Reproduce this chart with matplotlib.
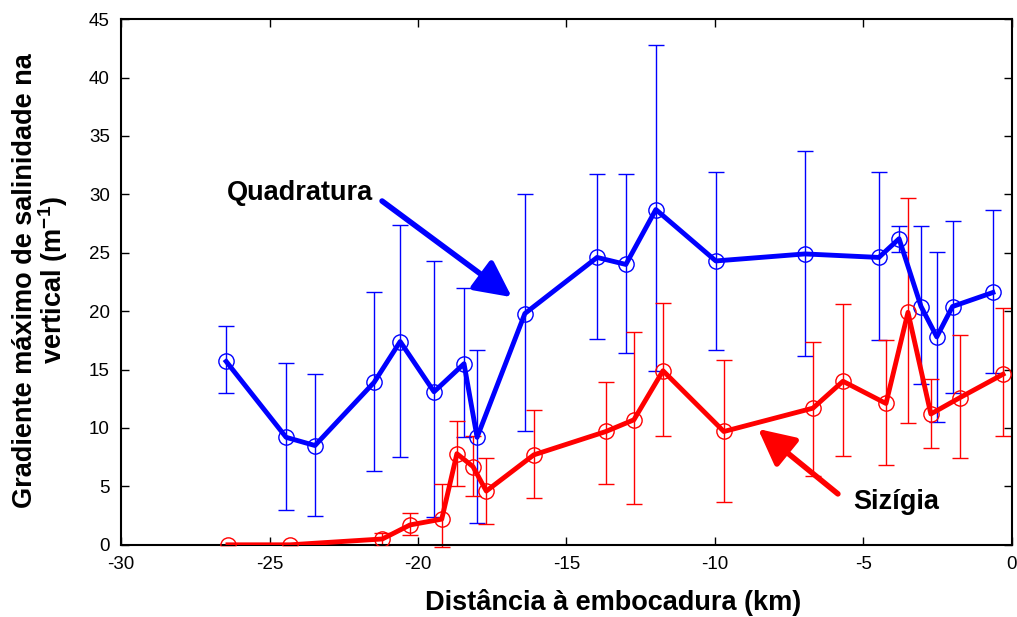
import matplotlib
matplotlib.use("Agg")
import matplotlib.pyplot as plt

plt.rcParams['font.family'] = ['Liberation Sans', 'DejaVu Sans']
plt.rcParams['axes.unicode_minus'] = False
plt.rcParams['mathtext.fontset'] = 'custom'
plt.rcParams['mathtext.rm'] = 'Liberation Sans'
plt.rcParams['mathtext.bf'] = 'Liberation Sans:bold'

# Quadratura (blue)
quad_x = [-26.46, -24.44, -23.47, -21.48, -20.6, -19.46, -18.45, -18.01, -16.4,
          -13.97, -13.0, -11.99, -9.97, -6.97, -4.48, -3.8, -3.06, -2.53, -2.0, -0.64]
quad_y = [15.7, 9.2, 8.5, 13.9, 17.4, 13.1, 15.5, 9.2, 19.8,
          24.6, 24.0, 28.7, 24.3, 24.9, 24.6, 26.2, 20.4, 17.8, 20.4, 21.6]
quad_top = [18.7, 15.6, 14.6, 21.6, 27.4, 24.3, 22.0, 16.7, 30.0,
            31.7, 31.7, 42.8, 31.9, 33.7, 31.9, 27.3, 27.3, 25.1, 27.7, 28.7]
quad_bot = [13.0, 3.0, 2.5, 6.3, 7.5, 2.4, 9.2, 1.9, 9.75,
            17.6, 16.4, 14.9, 16.7, 16.2, 17.5, 25.1, 13.8, 10.5, 13.0, 14.7]

# Sizigia (red)
siz_x = [-26.4, -24.3, -21.2, -20.27, -19.2, -18.69, -18.15, -17.7, -16.1,
         -13.67, -12.73, -11.75, -9.7, -6.7, -5.69, -4.24, -3.5, -2.73, -1.75, -0.3]
siz_y = [0.0, 0.0, 0.5, 1.7, 2.2, 7.8, 6.7, 4.6, 7.7,
         9.7, 10.7, 14.9, 9.7, 11.7, 14.0, 12.1, 19.9, 11.2, 12.6, 14.6]
siz_top = [0.0, 0.0, 1.0, 2.7, 5.2, 10.6, 9.3, 7.4, 11.5,
           13.9, 18.2, 20.7, 15.8, 17.4, 20.6, 17.5, 29.7, 14.2, 18.0, 20.3]
siz_bot = [0.0, 0.0, 0.0, 0.8, -0.2, 5.0, 4.2, 1.8, 4.0,
           5.2, 3.5, 9.3, 3.7, 5.9, 7.6, 6.8, 10.4, 8.3, 7.4, 9.3]

fig = plt.figure(figsize=(10.17, 6.17), dpi=100)
ax = fig.add_axes([0.119, 0.117, 0.876, 0.852])

def draw(x, y, top, bot, color):
    yerr = [[yi - b for yi, b in zip(y, bot)], [t - yi for yi, t in zip(y, top)]]
    ax.errorbar(x, y, yerr=yerr, fmt='none', ecolor=color, elinewidth=1.0,
                capsize=5.8, capthick=1.0, zorder=2, clip_on=False)
    ax.plot(x, y, '-', color=color, lw=3.5, zorder=3)
    ax.plot(x, y, 'o', mfc='none', mec=color, ms=11, mew=1.0, zorder=4)

draw(quad_x, quad_y, quad_top, quad_bot, 'blue')
draw(siz_x, siz_y, siz_top, siz_bot, 'red')

ax.set_xlim(-30, 0)
ax.set_ylim(0, 45)
ax.set_xticks(range(-30, 1, 5))
ax.set_yticks(range(0, 46, 5))
ax.tick_params(direction='in', length=6, width=1, top=True, right=True,
               labelsize=13.5, pad=8)
for s in ax.spines.values():
    s.set_linewidth(1.5)

ax.set_xlabel("Distância à embocadura (km)", fontsize=19.5, fontweight='bold')
ax.xaxis.set_label_coords(0.552, -0.085)
ax.set_ylabel("Gradiente máximo de salinidade na\nvertical (m$^{\\mathbf{-1}}$)",
              fontsize=19.5, fontweight='bold', linespacing=0.95)
ax.yaxis.set_label_coords(-0.057, 0.503)

# annotations: text + arrow
ax.text(-23.97, 30.1, "Quadratura", fontsize=19.5, fontweight='bold',
        ha='center', va='center')
ax.annotate("", xy=(-16.84, 21.2), xytext=(-21.21, 29.43),
            arrowprops=dict(arrowstyle='-|>,head_length=1.1,head_width=0.55',
                            mutation_scale=20, color='blue', lw=4,
                            shrinkA=0, shrinkB=0))
ax.text(-3.91, 3.68, "Sizígia", fontsize=19.5, fontweight='bold',
        ha='center', va='center')
ax.annotate("", xy=(-8.55, 9.92), xytext=(-5.86, 4.36),
            arrowprops=dict(arrowstyle='-|>,head_length=1.1,head_width=0.55',
                            mutation_scale=20, color='red', lw=4,
                            shrinkA=0, shrinkB=0))

fig.savefig("out.png", dpi=100)
